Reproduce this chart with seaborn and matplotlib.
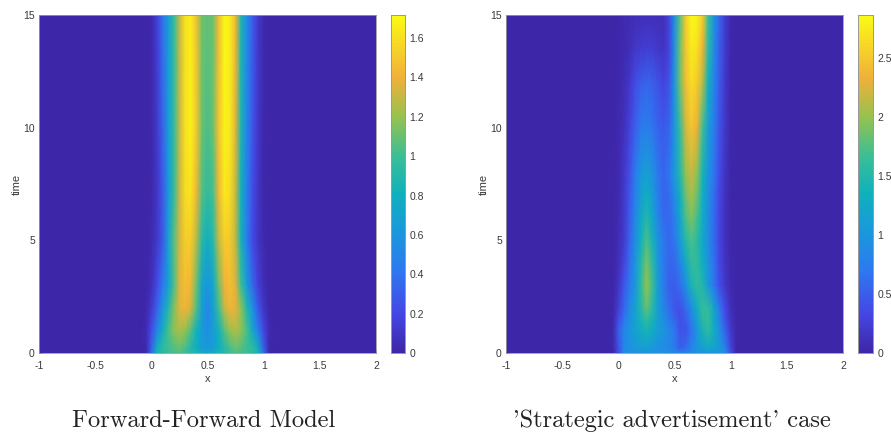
"""
Two space-time density maps side by side (parula style colours)
"""
import matplotlib
matplotlib.use('Agg')
import matplotlib.pyplot as plt
from matplotlib.colors import LinearSegmentedColormap
import seaborn as sns
import pandas as pd
import numpy as np

sns.set_theme(style='white')
plt.rcParams['font.family'] = ['Liberation Sans', 'DejaVu Sans']
plt.rcParams['axes.unicode_minus'] = False

# colour stops
parula_stops = [(0, '#3E26A8'), (.12, '#4548E6'), (.24, '#2E78F0'), (.35, '#1B96DE'),
                (.47, '#0FB0BE'), (.58, '#3ABE96'), (.70, '#96C24E'), (.815, '#F0B03A'),
                (.93, '#F8DE22'), (1, '#F9FB15')]

x_values = [-0.10, -0.05, 0.00, 0.05, 0.10, 0.15, 0.20, 0.25, 0.30, 0.35, 0.40, 0.45, 0.50,
            0.55, 0.60, 0.65, 0.70, 0.75, 0.80, 0.85, 0.90, 0.95, 1.00, 1.05, 1.10]

# Forward-Forward Model, one row per time
ff_times = [0, 0.25, 1, 2, 3, 5, 7, 10, 15]
ff_t00 = [0, 0, .35, .85, .92, .98, 1.03, 1.05, 1.0, .93, .88, .8, .75, .8, .88, .93, 1.0, 1.05, 1.03, .98, .92, .85, .35, 0, 0]
ff_t01 = [0, .02, .3, .8, .95, 1.0, 1.05, 1.1, 1.02, .9, .8, .65, .62, .65, .8, .9, 1.02, 1.1, 1.05, 1.0, .95, .8, .3, .02, 0]
ff_t02 = [0, .03, .22, .5, .78, 1.02, 1.18, 1.24, 1.2, 1.05, .82, .65, .55, .65, .82, 1.05, 1.2, 1.26, 1.18, 1.02, .74, .46, .2, .03, 0]
ff_t03 = [0, .01, .12, .32, .58, .88, 1.15, 1.36, 1.42, 1.34, 1.05, .68, .5, .68, 1.0, 1.3, 1.42, 1.38, 1.18, .88, .58, .28, .1, .01, 0]
ff_t04 = [0, 0, .06, .22, .42, .68, 1.02, 1.36, 1.46, 1.42, 1.1, .72, .6, .72, 1.1, 1.4, 1.46, 1.36, .98, .66, .36, .16, .05, 0, 0]
ff_t05 = [0, 0, .03, .12, .28, .68, 1.05, 1.33, 1.52, 1.52, 1.28, .92, .78, .92, 1.3, 1.52, 1.5, 1.28, .82, .46, .22, .1, .03, 0, 0]
ff_t06 = [0, 0, .02, .1, .27, .62, .95, 1.32, 1.58, 1.62, 1.42, 1.05, .95, 1.02, 1.42, 1.63, 1.58, 1.3, .8, .47, .23, .1, .02, 0, 0]
ff_t07 = [0, 0, .02, .12, .32, .65, .95, 1.3, 1.6, 1.68, 1.5, 1.12, 1.02, 1.12, 1.48, 1.68, 1.64, 1.36, .85, .5, .27, .11, .02, 0, 0]
ff_t08 = [0, 0, .02, .15, .38, .66, .95, 1.3, 1.6, 1.66, 1.48, 1.12, 1.08, 1.12, 1.45, 1.7, 1.66, 1.42, .85, .55, .3, .12, .03, 0, 0]

# 'Strategic advertisement' case
sa_times = [0, 0.25, 1, 1.5, 2, 3, 4, 5, 6, 7, 8, 10, 12, 13.5, 15]
sa_t00 = [0, 0, .4, .95, .98, .98, .98, .98, .98, .98, .97, .94, .88, .83, .85, .9, .97, 1, 1, 1, .98, .95, .4, 0, 0]
sa_t01 = [0, .02, .4, .85, .95, 1.05, 1.1, 1.12, 1.05, .95, .9, .85, .7, .5, .6, .8, 1.0, 1.15, 1.25, 1.2, 1.05, .75, .3, .02, 0]
sa_t02 = [0, .03, .5, .82, 1.0, 1.15, 1.3, 1.42, 1.3, 1.12, 1.0, .85, .7, .42, .42, .65, 1.0, 1.42, 1.6, 1.3, .95, .55, .2, .03, 0]
sa_t03 = [0, .02, .35, .68, .95, 1.15, 1.4, 1.6, 1.42, 1.12, .92, .72, .55, .4, .5, .78, 1.18, 1.55, 1.62, 1.25, .82, .42, .14, .02, 0]
sa_t04 = [0, .02, .25, .55, .9, 1.15, 1.5, 1.82, 1.55, 1.12, .85, .62, .45, .4, .6, .9, 1.3, 1.62, 1.6, 1.2, .7, .35, .1, .01, 0]
sa_t05 = [0, .01, .15, .45, .7, 1.02, 1.55, 2.0, 1.68, 1.12, .75, .52, .5, .62, .95, 1.4, 1.6, 1.48, 1.05, .7, .38, .18, .05, 0, 0]
sa_t06 = [0, 0, .1, .3, .62, .98, 1.48, 1.9, 1.58, 1.05, .72, .56, .58, .82, 1.25, 1.6, 1.6, 1.32, .98, .65, .34, .15, .04, 0, 0]
sa_t07 = [0, 0, .08, .22, .55, .92, 1.35, 1.72, 1.42, .98, .7, .58, .68, 1.08, 1.5, 1.72, 1.55, 1.22, .92, .6, .32, .13, .03, 0, 0]
sa_t08 = [0, 0, .06, .2, .5, .85, 1.22, 1.5, 1.25, .85, .6, .58, .78, 1.22, 1.72, 1.92, 1.7, 1.3, .93, .6, .32, .12, .03, 0, 0]
sa_t09 = [0, 0, .05, .2, .45, .8, 1.1, 1.33, 1.12, .75, .55, .6, .9, 1.35, 1.85, 2.08, 1.85, 1.35, .95, .62, .33, .13, .02, 0, 0]
sa_t10 = [0, 0, .05, .18, .4, .72, 1.0, 1.15, .98, .7, .55, .68, 1.05, 1.52, 2.0, 2.18, 1.98, 1.42, 1.0, .68, .36, .15, .02, 0, 0]
sa_t11 = [0, 0, .04, .12, .28, .52, .7, .78, .68, .55, .48, .55, 1.0, 1.62, 2.22, 2.48, 2.32, 1.68, 1.1, .75, .42, .18, .03, 0, 0]
sa_t12 = [0, 0, .03, .08, .18, .38, .5, .55, .52, .42, .3, .42, 1.0, 1.88, 2.42, 2.65, 2.52, 2.12, 1.35, .85, .48, .2, .03, 0, 0]
sa_t13 = [0, 0, .02, .05, .1, .18, .22, .25, .24, .2, .15, .3, .95, 1.88, 2.48, 2.75, 2.68, 2.35, 1.55, .92, .5, .22, .03, 0, 0]
sa_t14 = [0, 0, .02, .05, .06, .08, .1, .1, .1, .1, .1, .3, .95, 1.8, 2.52, 2.85, 2.8, 2.52, 1.65, .98, .55, .22, .03, 0, 0]

ff_rows = [ff_t00, ff_t01, ff_t02, ff_t03, ff_t04, ff_t05, ff_t06, ff_t07, ff_t08]
sa_rows = [sa_t00, sa_t01, sa_t02, sa_t03, sa_t04, sa_t05, sa_t06, sa_t07,
           sa_t08, sa_t09, sa_t10, sa_t11, sa_t12, sa_t13, sa_t14]

x_ticks = [-1, -0.5, 0, 0.5, 1, 1.5, 2]
x_tick_labels = ['-1', '-0.5', '0', '0.5', '1', '1.5', '2']
t_ticks = [0, 5, 10, 15]
ff_cbar_ticks = [0, 0.2, 0.4, 0.6, 0.8, 1, 1.2, 1.4, 1.6]
sa_cbar_ticks = [0, 0.5, 1, 1.5, 2, 2.5]
titles = ['Forward-Forward Model', "'Strategic advertisement' case"]

W, H = 891, 433
TEXT = '#3a3a3a'
parula = LinearSegmentedColormap.from_list('parula_like', parula_stops)


def px_axes(fig, left, top, right, bottom):
    return fig.add_axes([left / W, 1 - bottom / H, (right - left) / W, (bottom - top) / H])


def draw_panel(fig, rows, times, vmax, cbar_ticks, box, cbar_box, title, title_x):
    ax = px_axes(fig, *box)
    cax = px_axes(fig, *cbar_box)
    df = pd.DataFrame(rows, index=times, columns=x_values)

    # heatmap gives the colorbar, the smooth surface goes on top in data units
    sns.heatmap(df, ax=ax, cbar_ax=cax, cmap=parula, vmin=0, vmax=vmax,
                xticklabels=False, yticklabels=False,
                cbar_kws={'ticks': cbar_ticks})
    ax.collections[0].set_visible(False)

    x_full = np.r_[-1, df.columns.values, 2]
    z_full = np.pad(df.values, ((0, 0), (1, 1)), mode='edge')
    ax.pcolormesh(x_full, df.index.values, z_full, shading='gouraud',
                  cmap=parula, vmin=0, vmax=vmax)

    ax.set_xlim(-1, 2)
    ax.set_ylim(0, 15)
    ax.set_xticks(x_ticks, x_tick_labels)
    ax.set_yticks(t_ticks, [str(t) for t in t_ticks])
    ax.tick_params(direction='in', length=2.5, width=0.5, color='#444444',
                   labelsize=7.5, labelcolor=TEXT, left=True, bottom=True)
    ax.tick_params(axis='x', pad=6)
    ax.tick_params(axis='y', pad=3)
    ax.set_xlabel('x', fontsize=8, color=TEXT, labelpad=2)
    ax.set_ylabel('time', fontsize=8, color=TEXT, labelpad=1)
    for spine in ax.spines.values():
        spine.set_visible(True)
        spine.set_linewidth(0.6)
        spine.set_color('#999999')

    cax.tick_params(direction='in', length=2.5, width=0.5, color='#444444', right=True,
                    labelsize=7.5, labelcolor=TEXT, pad=3)
    cax.set_yticks(cbar_ticks, [f'{v:g}' for v in cbar_ticks])
    for spine in cax.spines.values():
        spine.set_visible(True)
        spine.set_linewidth(0.6)
        spine.set_color('#999999')

    fig.text(title_x / W, 1 - 421 / H, title, family='cmr10', fontsize=17.6,
             color='#222222', ha='center', va='center')


fig = plt.figure(figsize=(W / 100, H / 100), dpi=100)
draw_panel(fig, ff_rows, ff_times, 1.717, ff_cbar_ticks,
           (39, 15, 376, 353), (391, 15, 405, 353), titles[0], 204)
draw_panel(fig, sa_rows, sa_times, 2.865, sa_cbar_ticks,
           (506, 15, 843, 353), (858, 15, 873, 353), titles[1], 672)

fig.savefig('out.png', dpi=100)
